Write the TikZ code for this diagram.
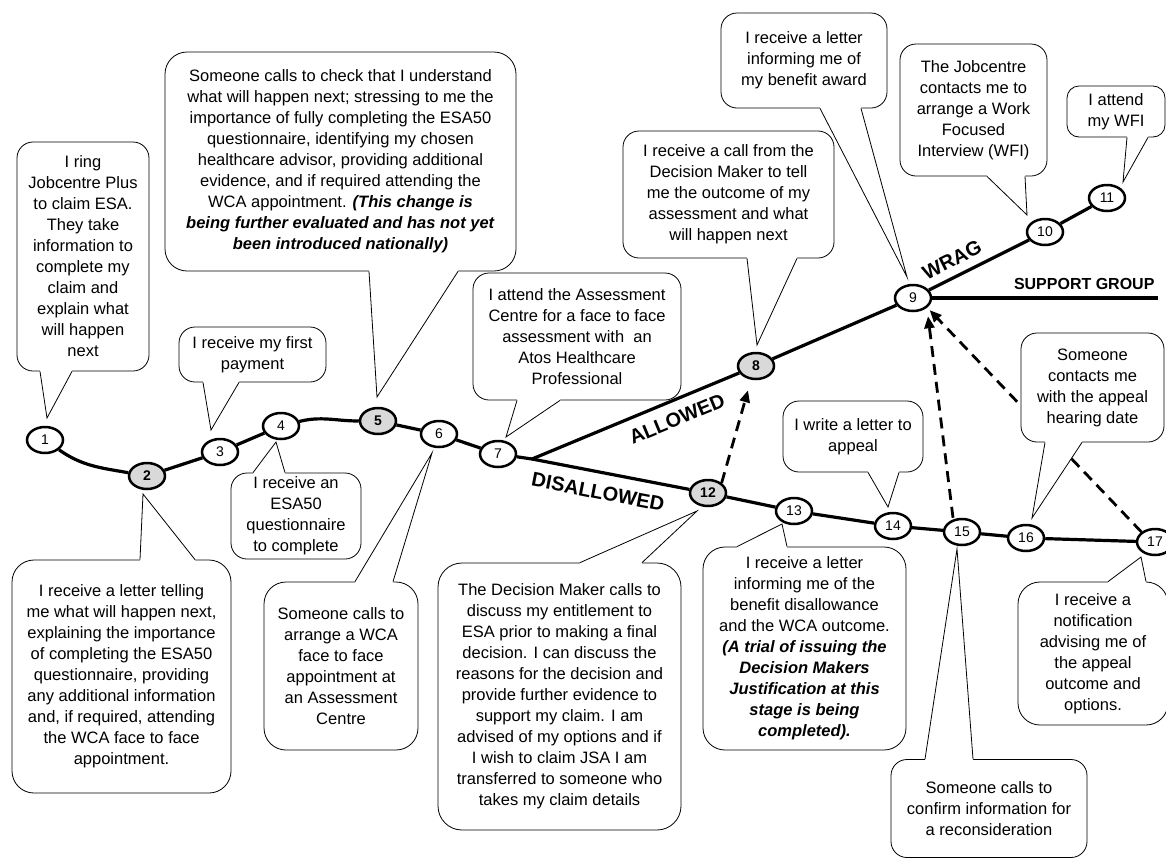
\documentclass[tikz,border=0pt]{standalone}
\usepackage{fontspec}
\setmainfont{Liberation Sans}
\usetikzlibrary{shapes.geometric,arrows.meta}

\tikzset{
  station/.style={ellipse, draw, line width=2.5pt, fill=white, minimum width=36pt,
    minimum height=26pt, inner sep=0pt, font=\fontsize{14}{14}\selectfont},
  hub/.style={station, fill=black!15, font=\fontsize{14}{14}\selectfont\bfseries},
  bubble/.style={draw, line width=0.8pt, rounded corners=16pt, fill=white, align=center,
    inner sep=0pt, font=\fontsize{16.5}{21}\selectfont},
  route/.style={line width=3.2pt},
  dasharrow/.style={line width=2.8pt, dash pattern=on 11pt off 7pt,
    -{Triangle[length=12pt,width=10pt]}},
  branch/.style={font=\fontsize{20}{20}\selectfont\bfseries},
}

% speech bubble tail: anchor, base x1, base x2, tip, overlap into the box
\newcommand{\tail}[5]{%
  \fill[white] (#2,0 |- #1) -- ++(0,#5) -- ++({#3-(#2)},0) -- ++(0,{-(#5)}) -- (#4) -- cycle;
  \draw[line width=0.8pt, line join=miter] (#2,0 |- #1) -- (#4) -- (#3,0 |- #1);}

\begin{document}
\begin{tikzpicture}[x=1pt,y=1pt]
\useasboundingbox (0,0) rectangle (1166,-860);

% stations
\node[station] (s1) at (45,-440) {1};
\node[hub] (s2) at (147,-476) {2};
\node[station] (s3) at (220,-452) {3};
\node[station] (s4) at (281,-426) {4};
\node[hub] (s5) at (378,-421) {5};
\node[station] (s6) at (439,-434) {6};
\node[station] (s7) at (498,-454) {7};
\node[hub] (s8) at (756,-366) {8};
\node[station] (s9) at (913,-298) {9};
\node[station] (s10) at (1045,-232) {10};
\node[station] (s11) at (1107,-198) {11};
\node[hub] (s12) at (708,-493) {12};
\node[station] (s13) at (794,-511) {13};
\node[station] (s14) at (893,-526) {14};
\node[station] (s15) at (962,-532) {15};
\node[station] (s16) at (1026,-538) {16};
\node[station] (s17) at (1155,-542) {17};
\coordinate (fork) at (532,-459);
\coordinate (sgend) at (1158,-298);

% routes
\draw[route] (s1) to[out=-35,in=170] (s2);
\draw[route] (s2) -- (s3) -- (s4);
\draw[route] (s4) to[out=14,in=180] (s5);
\draw[route] (s5) -- (s6) -- (s7) -- (fork) -- (s12);
\draw[route] (fork) -- (s8) -- (s9) -- (s10) -- (s11);
\draw[route] (s9) -- (sgend);
\draw[route] (s12) -- (s13) -- (s14) -- (s15) -- (s16) -- (s17);

\node[branch, rotate=22.5] (allowed) at (677,-419) {ALLOWED};
\node[branch, rotate=-11] (disallowed) at (598,-492) {DISALLOWED};
\node[branch, rotate=26.6] (wrag) at (952,-260) {WRAG};
\node[anchor=east, font=\fontsize{16}{16}\selectfont\bfseries] (support) at (1158,-284) {SUPPORT GROUP};

% appeal and reconsideration
\draw[dasharrow] (s12.north east) -- ([shift={(-8pt,-10pt)}]s8.south);
\draw[dasharrow] ([xshift=-9pt]s15.north) -- ([shift={(15pt,-4pt)}]s9.south);
\draw[dasharrow] (s17.north west) -- ([shift={(3pt,-2pt)}]s9.south east);

% callouts
\node[bubble, minimum width=132pt, minimum height=229pt] (c1) at (83,-256.5)
  {I ring\\Jobcentre Plus\\to claim ESA.\\They take\\information to\\complete my\\claim and\\explain what\\will happen\\next};
\node[bubble, minimum width=219pt, minimum height=233pt, rounded corners=22pt] (c2) at (121.5,-676.5)
  {I receive a letter telling\\me what will happen next,\\explaining the importance\\of completing the ESA50\\questionnaire, providing\\any additional information\\and, if required, attending\\the WCA face to face\\appointment.};
\node[bubble, minimum width=147pt, minimum height=55pt] (c3) at (252.5,-354.5)
  {I receive my first\\payment};
\node[bubble, minimum width=130pt, minimum height=86pt] (c4) at (296,-516)
  {I receive an\\ESA50\\questionnaire\\to complete};
\node[bubble, minimum width=351pt, minimum height=219pt, rounded corners=22pt] (c5) at (340.5,-161.5)
  {Someone calls to check that I understand\\what will happen next; stressing to me the\\importance of fully completing the ESA50\\questionnaire, identifying my chosen\\healthcare advisor, providing additional\\evidence, and if required attending the\\WCA appointment. \textbf{\textit{(This change is}}\\\textbf{\textit{being further evaluated and has not yet}}\\\textbf{\textit{been introduced nationally)}}};
\node[bubble, minimum width=154pt, minimum height=168pt, rounded corners=22pt] (c6) at (341,-666)
  {Someone calls to\\arrange a WCA\\face to face\\appointment at\\an Assessment\\Centre};
\node[bubble, minimum width=208pt, minimum height=127pt] (c7) at (577,-336.5)
  {I attend the Assessment\\Centre for a face to face\\assessment with\ \ an\\Atos Healthcare\\Professional};
\node[bubble, minimum width=211pt, minimum height=127pt] (c8) at (728.5,-194.5)
  {I receive a call from the\\Decision Maker to tell\\me the outcome of my\\assessment and what\\will happen next};
\node[bubble, minimum width=166pt, minimum height=95pt] (c9) at (804,-60.5)
  {I receive a letter\\informing me of\\my benefit award};
\node[bubble, minimum width=147pt, minimum height=132pt] (c10) at (973.5,-110)
  {The Jobcentre\\contacts me to\\arrange a Work\\Focused\\Interview (WFI)};
\node[bubble, minimum width=98pt, minimum height=51pt, rounded corners=12pt] (c11) at (1116,-111.5)
  {I attend\\my WFI};
\node[bubble, minimum width=243pt, minimum height=267pt, rounded corners=24pt] (c12) at (559.5,-696.5)
  {The Decision Maker calls to\\discuss my entitlement to\\ESA prior to making a final\\decision. I can discuss the\\reasons for the decision and\\provide further evidence to\\support my claim. I am\\advised of my options and if\\I wish to claim JSA I am\\transferred to someone who\\takes my claim details};
\node[bubble, minimum width=203pt, minimum height=203pt, rounded corners=22pt] (c13) at (804.5,-648.5)
  {I receive a letter\\informing me of the\\benefit disallowance\\and the WCA outcome.\\\textbf{\textit{(A trial of issuing the}}\\\textbf{\textit{Decision Makers}}\\\textbf{\textit{Justification at this}}\\\textbf{\textit{stage is being}}\\\textbf{\textit{completed).}}};
\node[bubble, minimum width=140pt, minimum height=71pt] (c14) at (853,-436.5)
  {I write a letter to\\appeal};
\node[bubble, minimum width=196pt, minimum height=98pt] (c15) at (989,-808.5)
  {Someone calls to\\confirm information for\\a reconsideration};
\node[bubble, minimum width=143pt, minimum height=109pt] (c16) at (1092.5,-387.5)
  {Someone\\contacts me\\with the appeal\\hearing date};
\node[bubble, minimum width=150pt, minimum height=143pt, rounded corners=22pt] (c17) at (1093,-653.5)
  {I receive a\\notification\\advising me of\\the appeal\\outcome and\\options.};

% tails
\coordinate (t1) at (47,-418);
\coordinate (t2) at (143,-494);
\coordinate (t3) at (211,-430);
\coordinate (t4) at (276,-442);
\coordinate (t5) at (377,-397);
\coordinate (t6) at (432,-453);
\coordinate (t7) at (506,-437);
\coordinate (t8) at (757,-345);
\coordinate (t9) at (907,-277);
\coordinate (t10) at (1027,-215);
\coordinate (t11) at (1123,-182);
\coordinate (t12) at (697,-511);
\coordinate (t13) at (782,-524);
\coordinate (t14) at (888,-507);
\coordinate (t15) at (957,-549);
\coordinate (t16) at (1032,-518);
\coordinate (t17) at (1141,-557);
\tail{c1.south}{40}{72}{t1}{2}
\tail{c2.north}{140}{195}{t2}{-2}
\tail{c3.south}{203}{239}{t3}{2}
\tail{c4.north}{253}{285}{t4}{-2}
\tail{c5.south}{369}{458}{t5}{2}
\tail{c6.north}{355}{393}{t6}{-2}
\tail{c7.south}{517}{560}{t7}{2}
\tail{c8.south}{747}{797}{t8}{2}
\tail{c9.south}{820}{861}{t9}{2}
\tail{c10.south}{987}{1025}{t10}{2}
\tail{c11.south}{1127}{1148}{t11}{2}
\tail{c12.north}{580}{642}{t12}{-2}
\tail{c13.north}{737}{787}{t13}{-2}
\tail{c14.south}{868}{899}{t14}{2}
\tail{c15.north}{925}{973}{t15}{-2}
\tail{c16.south}{1045}{1082}{t16}{2}
\tail{c17.north}{1108}{1146}{t17}{-2}
\end{tikzpicture}
\end{document}
